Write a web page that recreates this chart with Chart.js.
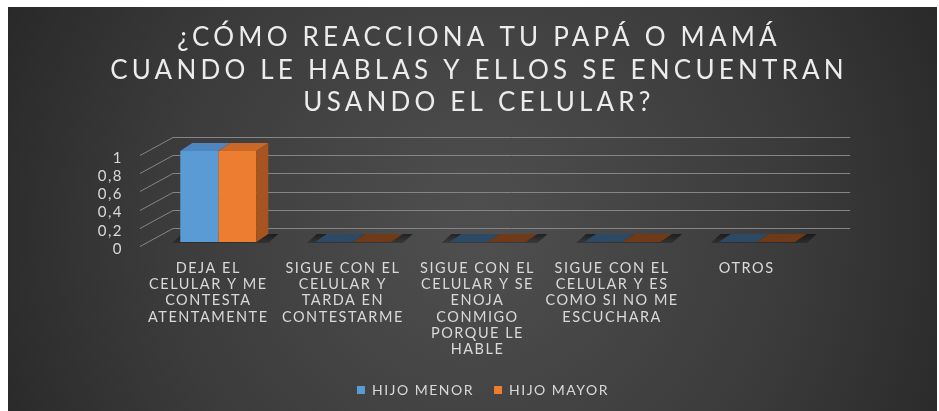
<!DOCTYPE html>
<html>
<head>
<meta charset="utf-8">
<script src="https://cdn.jsdelivr.net/npm/chart.js@4.4.1/dist/chart.umd.min.js"></script>
<style>
  html, body { margin: 0; padding: 0; background: #fff; }
  #wrap { width: 939px; height: 411px; }
</style>
</head>
<body>
<div id="wrap"><canvas id="chart" width="939" height="411"></canvas></div>
<script>
// Categories (multi-line labels as they appear under the axis)
const categories = [
  ['DEJA EL', 'CELULAR Y ME', 'CONTESTA', 'ATENTAMENTE'],
  ['SIGUE CON EL', 'CELULAR Y', 'TARDA EN', 'CONTESTARME'],
  ['SIGUE CON EL', 'CELULAR Y SE', 'ENOJA', 'CONMIGO', 'PORQUE LE', 'HABLE'],
  ['SIGUE CON EL', 'CELULAR Y ES', 'COMO SI NO ME', 'ESCUCHARA'],
  ['OTROS']
];
const hijoMenor = [1, 0, 0, 0, 0];
const hijoMayor = [1, 0, 0, 0, 0];
const titleLines = ['¿CÓMO REACCIONA TU PAPÁ O MAMÁ', 'CUANDO LE HABLAS Y ELLOS SE ENCUENTRAN', 'USANDO EL CELULAR?'];

// colours for front / top / side faces of the 3D columns
const faceColors = [
  { front: '#5b9bd5', light: '#6aa9e0', top: '#4f86bf', side: '#3f6d99', flat: '#2c4a66' },
  { front: '#ed7d31', light: '#f48a40', top: '#c8692a', side: '#a85420', flat: '#6e3a18' }
];
const depthX = 12, depthY = -8;

// the slide font is letter-spaced, keep that on every text drawn by the chart
const spacingPlugin = {
  id: 'spacing',
  beforeUpdate(chart) { chart.ctx.letterSpacing = '1.5px'; },
  beforeDraw(chart) { chart.ctx.letterSpacing = '1.5px'; }
};

// dark slide-like background with white margin on the left/top, plus the title
const backgroundPlugin = {
  id: 'bg',
  beforeDraw(chart) {
    const ctx = chart.ctx;
    ctx.save();
    ctx.fillStyle = '#fff';
    ctx.fillRect(0, 0, chart.width, chart.height);
    const g = ctx.createRadialGradient(475, 230, 20, 475, 230, 560);
    g.addColorStop(0, '#4e4e4e');
    g.addColorStop(0.55, '#3b3b3b');
    g.addColorStop(1, '#252525');
    ctx.fillStyle = g;
    ctx.fillRect(8, 7, chart.width - 10, chart.height - 7);

    ctx.letterSpacing = '4.2px';
    ctx.fillStyle = '#ececec';
    ctx.font = '26px Lato';
    ctx.textAlign = 'center';
    ctx.textBaseline = 'middle';
    titleLines.forEach((line, i) => {
      ctx.fillText(line, 479, 38 + i * 32.5);
    });
    ctx.restore();
  }
};

// back-wall gridlines with the slanted lead-in from each tick label
const wallPlugin = {
  id: 'wall',
  beforeDatasetsDraw(chart) {
    const ctx = chart.ctx;
    const y = chart.scales.y;
    const area = chart.chartArea;
    ctx.save();
    ctx.strokeStyle = '#858585';
    ctx.lineWidth = 1;
    y.ticks.forEach(t => {
      const py = Math.round(y.getPixelForValue(t.value)) + 0.5;
      ctx.beginPath();
      ctx.moveTo(area.left - 11, py + 4);
      ctx.lineTo(area.left + 22, py - 14);
      ctx.lineTo(area.right + 26, py - 14);
      ctx.stroke();
    });
    // floor shadows under every column group
    chart.getDatasetMeta(0).data.forEach((bar, i) => {
      const last = chart.getDatasetMeta(chart.data.datasets.length - 1).data[i];
      const x1 = bar.x - bar.width / 2 - 8;
      const x2 = last.x + last.width / 2 + 22;
      const b = bar.base;
      const sg = ctx.createLinearGradient(0, b - 8, 0, b + 2);
      sg.addColorStop(0, 'rgba(0,0,0,0.55)');
      sg.addColorStop(1, 'rgba(0,0,0,0.2)');
      ctx.fillStyle = sg;
      ctx.beginPath();
      ctx.moveTo(x1, b + 1);
      ctx.lineTo(x2 - 10, b + 1);
      ctx.lineTo(x2, b + depthY);
      ctx.lineTo(x1 + 10, b + depthY);
      ctx.closePath();
      ctx.fill();
    });
    ctx.restore();
  }
};

// top and side faces of the columns
const columnPlugin = {
  id: 'columns3d',
  afterDatasetsDraw(chart) {
    const ctx = chart.ctx;
    const n = chart.data.datasets.length;
    ctx.save();
    for (let d = 0; d < n; d++) {
      const c = faceColors[d];
      chart.getDatasetMeta(d).data.forEach(bar => {
        const x1 = bar.x - bar.width / 2;
        const x2 = bar.x + bar.width / 2;
        const top = bar.y;
        const flat = Math.abs(bar.base - top) < 1;
        ctx.fillStyle = flat ? c.flat : c.top;
        ctx.beginPath();
        ctx.moveTo(x1, top);
        ctx.lineTo(x2, top);
        ctx.lineTo(x2 + depthX, top + depthY);
        ctx.lineTo(x1 + depthX, top + depthY);
        ctx.closePath();
        ctx.fill();
        if (d === n - 1 && !flat) {
          ctx.fillStyle = c.side;
          ctx.beginPath();
          ctx.moveTo(x2, top);
          ctx.lineTo(x2 + depthX, top + depthY);
          ctx.lineTo(x2 + depthX, bar.base + depthY);
          ctx.lineTo(x2, bar.base);
          ctx.closePath();
          ctx.fill();
        }
      });
    }
    ctx.restore();
  }
};

// front face with a soft horizontal sheen
function frontFill(d) {
  return (context) => {
    const el = context.element;
    if (!el || !el.width) return faceColors[d].front;
    const x1 = el.x - el.width / 2;
    const g = context.chart.ctx.createLinearGradient(x1, 0, x1 + el.width, 0);
    g.addColorStop(0, faceColors[d].light);
    g.addColorStop(1, faceColors[d].front);
    return g;
  };
}

const ctx = document.getElementById('chart').getContext('2d');
new Chart(ctx, {
  type: 'bar',
  data: {
    labels: categories,
    datasets: [
      { label: 'HIJO MENOR', data: hijoMenor, backgroundColor: frontFill(0), borderWidth: 0 },
      { label: 'HIJO MAYOR', data: hijoMayor, backgroundColor: frontFill(1), borderWidth: 0 }
    ]
  },
  options: {
    responsive: false,
    animation: false,
    devicePixelRatio: 1,
    layout: { padding: { left: 27, right: 0, top: 151, bottom: 4 } },
    datasets: { bar: { barPercentage: 1, categoryPercentage: 0.565 } },
    plugins: {
      title: { display: false },
      legend: {
        position: 'bottom',
        labels: {
          color: '#d9d9d9',
          boxWidth: 8,
          boxHeight: 8,
          padding: 20,
          font: { family: 'Lato', size: 14 },
          generateLabels(chart) {
            return chart.data.datasets.map((ds, i) => ({
              text: ds.label,
              fillStyle: faceColors[i].front,
              strokeStyle: faceColors[i].front,
              lineWidth: 0,
              fontColor: '#d9d9d9',
              datasetIndex: i,
              hidden: false
            }));
          }
        }
      },
      tooltip: { enabled: false }
    },
    scales: {
      x: {
        grid: { display: false },
        border: { display: false },
        ticks: {
          color: '#d9d9d9',
          font: { family: 'Lato', size: 14.5, lineHeight: 1.125 },
          padding: 10,
          labelOffset: -10,
          maxRotation: 0,
          autoSkip: false
        },
        afterFit(scale) { scale.height = 121; }
      },
      y: {
        min: 0,
        max: 1,
        grid: { display: false },
        border: { display: false },
        ticks: {
          stepSize: 0.2,
          autoSkip: false,
          color: '#d9d9d9',
          font: { family: 'Lato', size: 15 },
          padding: 20,
          labelOffset: 7,
          callback: v => String(Math.round(v * 10) / 10).replace('.', ',')
        },
        afterFit(scale) { scale.width = 124; }
      },
      // empty axis on the right, only keeps the room to the right of the plot
      yRight: {
        position: 'right',
        min: 0,
        max: 1,
        grid: { display: false },
        border: { display: false },
        ticks: { display: false },
        afterFit(scale) { scale.width = 115; }
      }
    }
  },
  plugins: [spacingPlugin, backgroundPlugin, wallPlugin, columnPlugin]
});
</script>
</body>
</html>
